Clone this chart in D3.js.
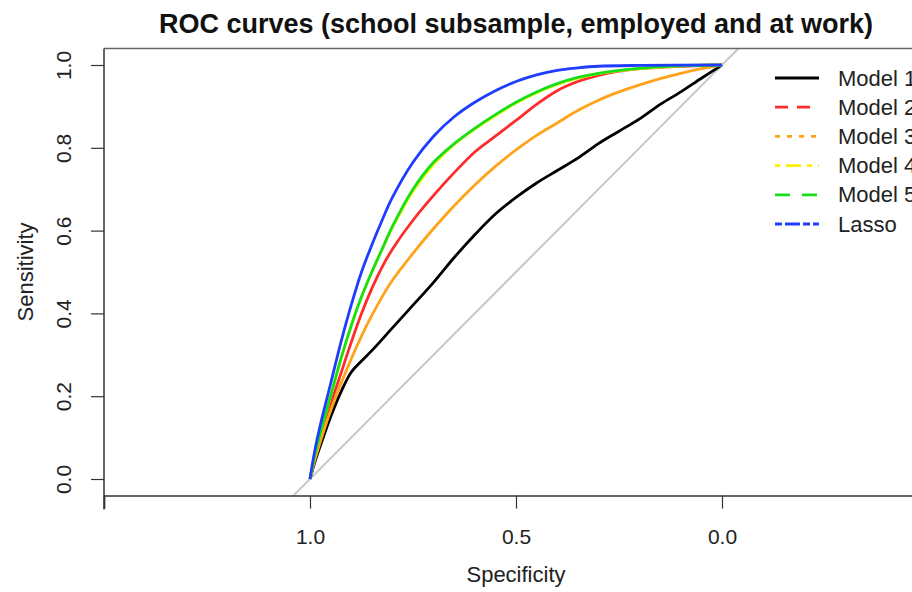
<!DOCTYPE html>
<html>
<head>
<meta charset="utf-8">
<script src="https://cdn.jsdelivr.net/npm/d3@7"></script>
<style>
  body { margin: 0; background: #fff; }
  svg { font-family: "Liberation Sans", Arial, sans-serif; }
</style>
</head>
<body>
<div id="chart"></div>
<script>
// ROC curves: [1 - specificity, sensitivity]
const model1 = [[0,0],[.01,.035],[.025,.08],[.05,.15],[.075,.21],[.1,.258],[.125,.285],[.15,.31],[.2,.365],[.25,.42],[.3,.475],[.35,.535],[.4,.59],[.45,.64],[.5,.68],[.55,.715],[.6,.745],[.65,.775],[.7,.81],[.75,.84],[.8,.87],[.85,.905],[.9,.935],[.95,.968],[1,1]];
const model2 = [[0,0],[.01,.045],[.025,.1],[.05,.18],[.075,.255],[.1,.33],[.125,.4],[.15,.46],[.175,.512],[.2,.555],[.25,.625],[.3,.685],[.35,.74],[.4,.79],[.45,.828],[.5,.866],[.55,.905],[.6,.938],[.65,.96],[.7,.975],[.75,.985],[.8,.991],[.9,.997],[1,1]];
const model3 = [[0,0],[.01,.04],[.025,.09],[.05,.165],[.075,.23],[.1,.29],[.125,.345],[.15,.395],[.175,.44],[.2,.48],[.25,.545],[.3,.605],[.35,.66],[.4,.71],[.45,.755],[.5,.795],[.55,.83],[.6,.86],[.65,.89],[.7,.915],[.75,.935],[.8,.952],[.85,.967],[.9,.98],[.95,.991],[1,1]];
const model4 = [[0,0],[.01,.05],[.025,.11],[.05,.2],[.075,.29],[.1,.37],[.125,.44],[.15,.5],[.175,.555],[.2,.607],[.25,.695],[.3,.76],[.35,.808],[.4,.845],[.45,.878],[.5,.908],[.55,.933],[.6,.953],[.65,.968],[.7,.979],[.8,.991],[.9,.998],[1,1]];
const model5 = [[0,0],[.01,.05],[.025,.11],[.05,.2],[.075,.29],[.1,.37],[.125,.44],[.15,.5],[.175,.555],[.2,.61],[.25,.7],[.3,.765],[.35,.81],[.4,.847],[.45,.88],[.5,.91],[.55,.935],[.6,.955],[.65,.97],[.7,.98],[.8,.992],[.9,.998],[1,1]];
const lasso = [[0,0],[.01,.06],[.025,.13],[.05,.23],[.075,.33],[.1,.42],[.125,.5],[.15,.565],[.175,.625],[.2,.68],[.25,.765],[.3,.828],[.35,.875],[.4,.91],[.45,.938],[.5,.96],[.55,.976],[.6,.987],[.65,.993],[.7,.997],[.8,.999],[1,1]];

const seriesNames = ['Model 1', 'Model 2', 'Model 3', 'Model 4', 'Model 5', 'Lasso'];
const seriesData = [model1, model2, model3, model4, model5, lasso];
const seriesColors = ['#000000', '#ff2b2b', '#ffa31a', '#ffee00', '#18e018', '#1f3dff'];
const seriesDash = ['none', '13,9', '5,7', '5,6,15,6', '15,12', '7,3,15,3'];

const xTicks = [1.5, 1.0, 0.5, 0.0, -0.5];
const xTickLabels = ['', '1.0', '0.5', '0.0', ''];
const yTicks = [0, 0.2, 0.4, 0.6, 0.8, 1.0];

const width = 912, height = 592;

const svg = d3.select('#chart').append('svg')
    .attr('width', width)
    .attr('height', height);

// specificity axis is reversed, as pROC draws it
const x = d3.scaleLinear().domain([1.5, -0.5]).range([104, 928]);
const y = d3.scaleLinear().domain([0, 1]).range([479, 65]);
const yLo = -0.04, yHi = 1.04;

svg.append('defs').append('clipPath').attr('id', 'plotClip')
    .append('rect')
    .attr('x', x(1.5)).attr('y', y(yHi))
    .attr('width', x(-0.5) - x(1.5)).attr('height', y(yLo) - y(yHi));

// diagonal reference line
const plot = svg.append('g').attr('clip-path', 'url(#plotClip)');
plot.append('line')
    .attr('x1', x(1.1)).attr('y1', y(-0.1))
    .attr('x2', x(-0.1)).attr('y2', y(1.1))
    .attr('stroke', '#c8c8c8')
    .attr('stroke-width', 2);

const line = d3.line()
    .x(d => x(1 - d[0]))
    .y(d => y(d[1]))
    .curve(d3.curveCatmullRom.alpha(0.5));

seriesData.forEach((pts, i) => {
    plot.append('path')
        .datum(pts)
        .attr('d', line)
        .attr('fill', 'none')
        .attr('stroke', seriesColors[i])
        .attr('stroke-width', 2.8)
        .attr('stroke-linejoin', 'round');
});

// top of the box
svg.append('line')
    .attr('x1', x(1.5)).attr('x2', width)
    .attr('y1', y(yHi)).attr('y2', y(yHi))
    .attr('stroke', '#666').attr('stroke-width', 1.5);

// x axis
const xAxis = d3.axisBottom(x)
    .tickValues(xTicks)
    .tickFormat((d, i) => xTickLabels[i])
    .tickSize(13);
const gx = svg.append('g')
    .attr('transform', `translate(0,${y(yLo)})`)
    .call(xAxis);
gx.select('.domain').attr('stroke', '#333').attr('stroke-width', 1.5);
gx.selectAll('.tick line').attr('stroke', '#333').attr('stroke-width', 1.2);
gx.selectAll('.tick text')
    .attr('font-size', 21)
    .attr('fill', '#222')
    .attr('font-family', '"Liberation Sans", Arial, sans-serif')
    .attr('y', 544 - y(yLo))
    .attr('dy', null);

// y axis
const yAxis = d3.axisLeft(y)
    .tickValues(yTicks)
    .tickFormat(d3.format('.1f'))
    .tickSize(13);
const gy = svg.append('g')
    .attr('transform', `translate(${x(1.5)},0)`)
    .call(yAxis);
gy.select('.domain')
    .attr('d', `M0,${y(yHi)}V${y(yLo) + 14}`)
    .attr('stroke', '#333').attr('stroke-width', 1.5);
gy.selectAll('.tick line').attr('stroke', '#333').attr('stroke-width', 1.2);
gy.selectAll('.tick text')
    .attr('font-size', 21)
    .attr('fill', '#222')
    .attr('font-family', '"Liberation Sans", Arial, sans-serif')
    .attr('text-anchor', 'middle')
    .attr('dy', null)
    .attr('x', null)
    .attr('transform', 'translate(-33,0) rotate(-90)');

// titles
svg.append('text')
    .attr('x', x(0.5)).attr('y', 33)
    .attr('text-anchor', 'middle')
    .attr('font-size', 27)
    .attr('font-weight', 'bold')
    .attr('fill', '#111')
    .text('ROC curves (school subsample, employed and at work)');

svg.append('text')
    .attr('x', x(0.5)).attr('y', 582)
    .attr('text-anchor', 'middle')
    .attr('font-size', 22)
    .attr('fill', '#222')
    .text('Specificity');

svg.append('text')
    .attr('transform', `translate(33,${y(0.5)}) rotate(-90)`)
    .attr('text-anchor', 'middle')
    .attr('font-size', 22)
    .attr('fill', '#222')
    .text('Sensitivity');

// legend (runs past the right edge, as in the original plot)
const legend = svg.append('g');
const rowY = d3.scalePoint().domain(seriesNames).range([78, 224]);
seriesNames.forEach((name, i) => {
    const ry = rowY(name);
    legend.append('line')
        .attr('x1', 775).attr('x2', 819)
        .attr('y1', ry).attr('y2', ry)
        .attr('stroke', seriesColors[i])
        .attr('stroke-width', 2.8)
        .attr('stroke-dasharray', seriesDash[i]);
    legend.append('text')
        .attr('x', 838).attr('y', ry)
        .attr('dominant-baseline', 'central')
        .attr('font-size', 22)
        .attr('fill', '#222')
        .text(name);
});
</script>
</body>
</html>
